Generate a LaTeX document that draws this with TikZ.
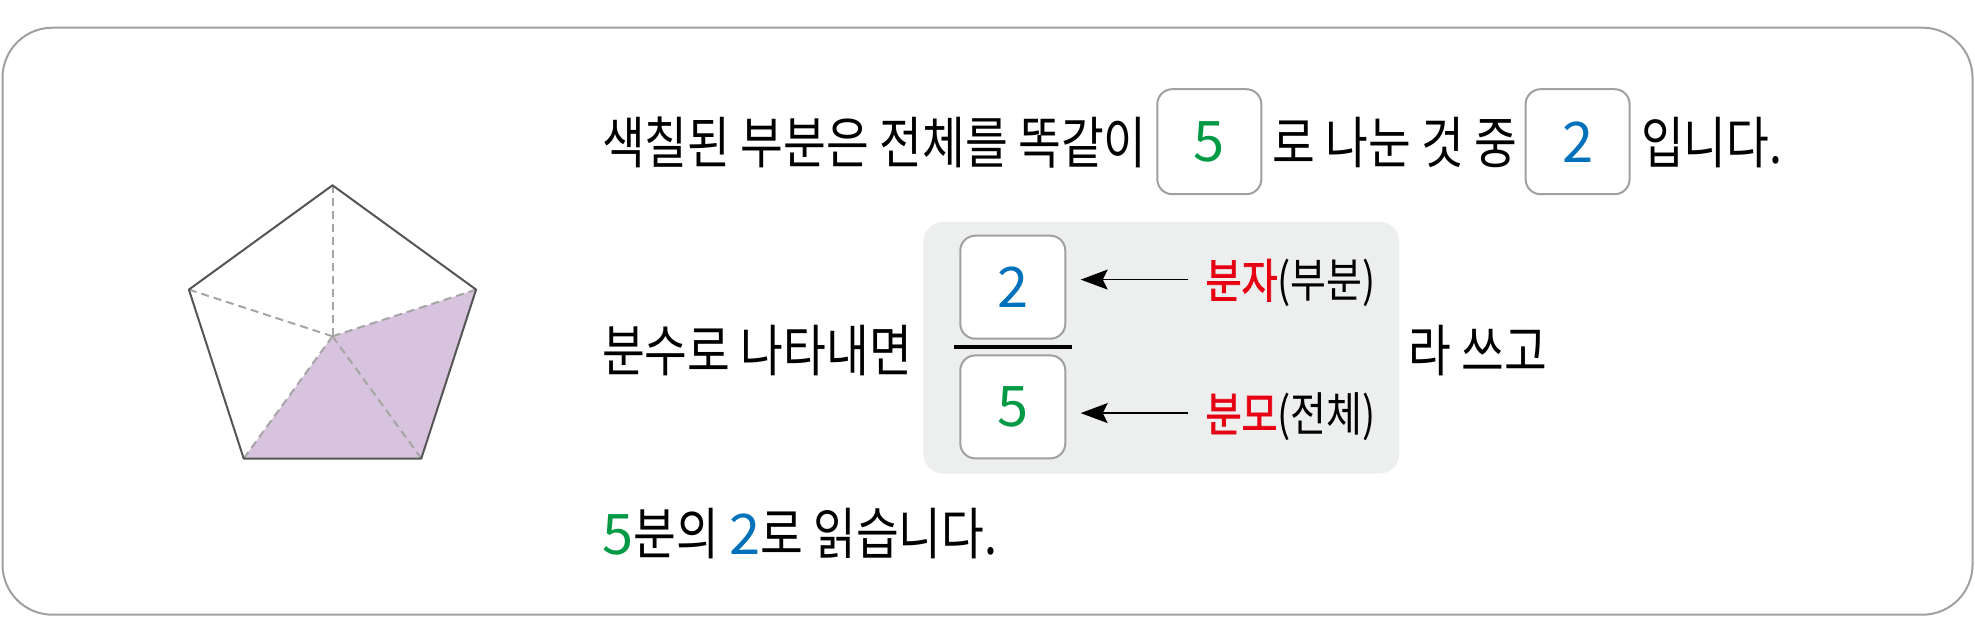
\documentclass[tikz,border=0pt]{standalone}
\usepackage{fontspec}
\usetikzlibrary{arrows.meta}
\newfontfamily\kr{Noto Sans CJK KR}[FakeStretch=0.83]
\newfontfamily\krdig{Noto Sans CJK KR}
\newfontfamily\krbold{Noto Sans CJK KR}[FakeStretch=0.83,FakeBold=1.6]
\definecolor{framegray}{HTML}{A0A0A0}
\definecolor{edgegray}{HTML}{555555}
\definecolor{dashgray}{HTML}{A5A5A5}
\definecolor{pentfill}{HTML}{D8C3DE}
\definecolor{panelgray}{HTML}{EDEFEE}
\definecolor{numgreen}{HTML}{009A44}
\definecolor{numblue}{HTML}{0072BC}
\definecolor{labred}{HTML}{E60012}
\begin{document}
\begin{tikzpicture}[x=1pt,y=-1pt,
  txt/.style={inner sep=0pt,anchor=base west,font=\kr\fontsize{56}{66}\selectfont},
  lab/.style={inner sep=0pt,anchor=base west,font=\kr\fontsize{47}{56}\selectfont},
  numbox/.style={draw=framegray,line width=2pt,rounded corners=15pt,fill=white,inner sep=0pt,font=\krdig\fontsize{56}{66}\selectfont},
  arr/.style={line width=1.6pt,-{Stealth[length=27pt,width=20pt,inset=5pt]}},
  pedge/.style={draw=edgegray,line width=2pt,line join=round},
  pdash/.style={draw=dashgray,line width=2pt,dash pattern=on 8pt off 5pt}]
\useasboundingbox (0,0) rectangle (1975,617);
% outer frame
\draw[framegray,line width=2pt,rounded corners=50pt] (2.5,27.7) rectangle (1972.5,614.7);
% pentagon
\coordinate (pT) at (332.5,185.3);
\coordinate (pL) at (188.9,289.6);
\coordinate (pR) at (476.1,289.6);
\coordinate (pBL) at (243.7,458.5);
\coordinate (pBR) at (421.3,458.5);
\coordinate (pC) at (332.5,336.3);
\fill[pentfill] (pC) -- (pR) -- (pBR) -- (pBL) -- cycle;
\draw[pdash] (pC) -- (pT);
\draw[pdash] (pC) -- (pL);
\draw[pdash] (pC) -- (pR);
\draw[pdash] (pC) -- (pBL);
\draw[pdash] (pC) -- (pBR);
\draw[pedge] (pT) -- (pR) -- (pBR) -- (pBL) -- (pL) -- cycle;
% line 1
\node[txt] (l1a) at (602,163.6) {색칠된 부분은 전체를 똑같이};
\node[numbox,minimum width=104pt,minimum height=105pt] (b5) at (1209.3,141.7) {\textcolor{numgreen}{5}};
\node[txt] (l1b) at (1272,163.6) {로 나눈 것 중};
\node[numbox,minimum width=104pt,minimum height=105pt] (b2) at (1577.6,141.7) {\textcolor{numblue}{2}};
\node[txt] (l1c) at (1641,163.6) {입니다.};
% line 2
\node[txt] (l2a) at (602,371.3) {분수로 나타내면};
\node[fill=panelgray,rounded corners=20pt,minimum width=476pt,minimum height=252pt,inner sep=0pt] (panel) at (1161.4,347.7) {};
\node[numbox,minimum width=105pt,minimum height=103pt] (num) at (1012.8,287.2) {\textcolor{numblue}{2}};
\node[numbox,minimum width=105pt,minimum height=103pt] (den) at (1012.8,406.9) {\textcolor{numgreen}{5}};
\coordinate (barL) at (953.5,346.6);
\coordinate (barR) at (1072,346.6);
\draw[line width=4pt] (barL) -- (barR);
\node[lab] (labnum) at (1205.5,297.9) {{\krbold\color{labred}분자}(부분)};
\node[lab] (labden) at (1205.5,431.4) {{\krbold\color{labred}분모}(전체)};
\coordinate (a1s) at (1187.8,279.6);
\coordinate (a1e) at (1080.7,279.6);
\coordinate (a2s) at (1187.8,413.1);
\coordinate (a2e) at (1080.7,413.1);
\draw[arr] (a1s) -- (a1e);
\draw[arr] (a2s) -- (a2e);
\node[txt] (l2b) at (1408,371.3) {라 쓰고};
% line 3
\node[txt] (l3) at (602,554.1) {{\krdig\color{numgreen}5}분의 {\krdig\color{numblue}2}로 읽습니다.};
\end{tikzpicture}
\end{document}
